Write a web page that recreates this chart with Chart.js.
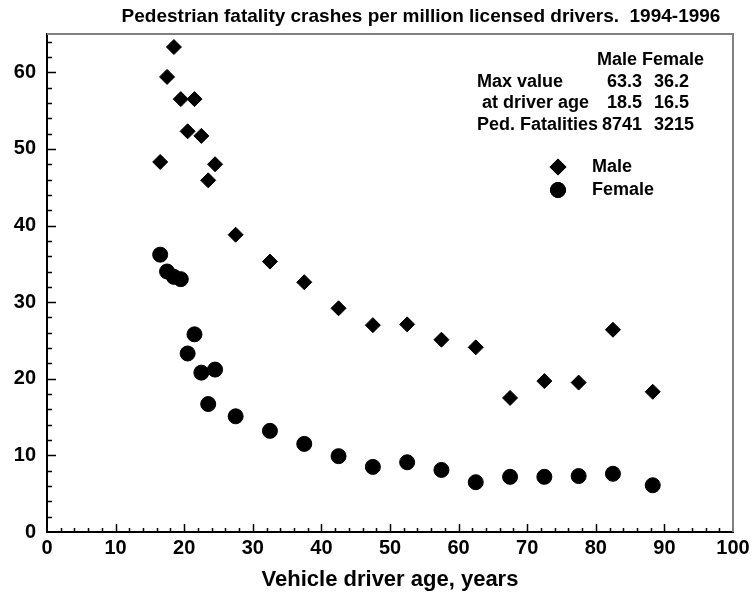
<!DOCTYPE html>
<html>
<head>
<meta charset="utf-8">
<script src="https://cdn.jsdelivr.net/npm/chart.js@4.4.1/dist/chart.umd.min.js"></script>
<style>
  html, body { margin: 0; padding: 0; background: #fff; }
  #wrap { width: 754px; height: 596px; }
</style>
</head>
<body>
<div id="wrap"><canvas id="chart" width="754" height="596"></canvas></div>
<script>
// driver age (years) for each plotted group
const ages = [16.5, 17.5, 18.5, 19.5, 20.5, 21.5, 22.5, 23.5, 24.5, 27.5, 32.5, 37.5, 42.5, 47.5, 52.5, 57.5, 62.5, 67.5, 72.5, 77.5, 82.5, 88.3];
// pedestrian fatality crashes per million licensed drivers
const maleRates   = [48.3, 59.4, 63.3, 56.5, 52.3, 56.5, 51.7, 45.9, 48.0, 38.8, 35.3, 32.6, 29.2, 27.0, 27.1, 25.1, 24.1, 17.5, 19.7, 19.5, 26.4, 18.3];
const femaleRates = [36.2, 34.0, 33.3, 33.0, 23.3, 25.8, 20.8, 16.7, 21.2, 15.1, 13.2, 11.5, 9.9, 8.5, 9.1, 8.1, 6.5, 7.2, 7.2, 7.3, 7.6, 6.1];

const xTicks = [0, 10, 20, 30, 40, 50, 60, 70, 80, 90, 100];
const yTicks = [0, 10, 20, 30, 40, 50, 60];

// summary table shown in the upper right
const tableHeader = 'Male Female';
const tableRows = ['Max value', ' at driver age', 'Ped. Fatalities'];
const tableMale = ['63.3', '18.5', '8741'];
const tableFemale = ['36.2', '16.5', '3215'];

const FONT = '"Liberation Sans", Arial, Helvetica, sans-serif';

const pts = ages.map((a, i) => ({ x: a, y: maleRates[i] }));
const ptsF = ages.map((a, i) => ({ x: a, y: femaleRates[i] }));

// draws frame, inward ticks, title, table and legend
const decor = {
  id: 'decor',
  afterDraw(chart) {
    const { ctx, chartArea: a, scales: { x, y } } = chart;
    ctx.save();

    ctx.strokeStyle = '#808080';
    ctx.lineWidth = 2;
    ctx.beginPath();
    ctx.moveTo(a.left, a.top);
    ctx.lineTo(a.right, a.top);
    ctx.lineTo(a.right, a.bottom);
    ctx.stroke();

    ctx.strokeStyle = '#000';
    ctx.lineWidth = 1.5;
    ctx.beginPath();
    for (let v = 2; v < 100; v += 2) {
      const px = Math.round(x.getPixelForValue(v)) + 0.5;
      const len = v % 10 === 0 ? 8 : 4;
      ctx.moveTo(px, a.bottom);
      ctx.lineTo(px, a.bottom - len);
    }
    for (let v = 2; v < 65; v += 2) {
      const py = Math.round(y.getPixelForValue(v)) + 0.5;
      const len = v % 10 === 0 ? 9 : 5;
      ctx.moveTo(a.left, py);
      ctx.lineTo(a.left + len, py);
    }
    ctx.stroke();

    ctx.fillStyle = '#000';
    ctx.textBaseline = 'middle';
    ctx.font = 'bold 19px ' + FONT;
    ctx.textAlign = 'center';
    ctx.fillText('Pedestrian fatality crashes per million licensed drivers.  1994-1996', 421, 17);

    ctx.font = 'bold 18px ' + FONT;
    ctx.textAlign = 'left';
    ctx.fillText(tableHeader, 597, 60);
    tableRows.forEach((r, i) => {
      const ty = 82 + i * 21.5;
      ctx.textAlign = 'left';
      ctx.fillText(r, 477, ty);
      ctx.textAlign = 'right';
      ctx.fillText(tableMale[i], 642, ty);
      ctx.textAlign = 'left';
      ctx.fillText(tableFemale[i], 654, ty);
    });

    // legend
    const items = chart.data.datasets.map((ds, i) => ({ ds, y: 167 + i * 23 }));
    items.forEach(({ ds, y: ly }) => {
      Chart.helpers.drawPoint(ctx, {
        pointStyle: ds.pointStyle, radius: ds.pointRadius, rotation: 0, borderWidth: 1
      }, 558, ly);
      ctx.fillStyle = '#000';
      ctx.strokeStyle = '#000';
      ctx.lineWidth = 1;
      ctx.fill();
      ctx.stroke();
      ctx.textAlign = 'left';
      ctx.fillText(ds.label, 592, ly);
    });

    ctx.restore();
  }
};

new Chart(document.getElementById('chart'), {
  type: 'scatter',
  data: {
    datasets: [
      {
        label: 'Male',
        data: pts,
        pointStyle: 'rectRot',
        pointRadius: 7.5,
        backgroundColor: '#000',
        borderColor: '#000',
        borderWidth: 1
      },
      {
        label: 'Female',
        data: ptsF,
        pointStyle: 'circle',
        pointRadius: 7.5,
        backgroundColor: '#000',
        borderColor: '#000',
        borderWidth: 1
      }
    ]
  },
  options: {
    responsive: false,
    animation: false,
    layout: { padding: { top: 34, right: 21, left: 0, bottom: 0 } },
    plugins: { legend: { display: false }, tooltip: { enabled: false } },
    scales: {
      x: {
        type: 'linear',
        min: 0,
        max: 100,
        afterBuildTicks: s => { s.ticks = xTicks.map(v => ({ value: v })); },
        afterFit: s => { s.height = 64; },
        grid: { display: false, drawTicks: false },
        border: { display: true, color: '#000', width: 2 },
        ticks: { color: '#000', font: { family: FONT, size: 20, weight: 'bold' }, padding: 4, maxRotation: 0, autoSkip: false },
        title: { display: true, text: 'Vehicle driver age, years', color: '#000', font: { family: FONT, size: 22, weight: 'bold' }, padding: { top: 0, bottom: 3 } }
      },
      y: {
        type: 'linear',
        min: 0,
        max: 65,
        afterBuildTicks: s => { s.ticks = yTicks.map(v => ({ value: v })); },
        afterFit: s => { s.width = 47; },
        grid: { display: false, drawTicks: false },
        border: { display: true, color: '#000', width: 2 },
        ticks: { color: '#000', font: { family: FONT, size: 20, weight: 'bold' }, padding: 11, autoSkip: false }
      }
    }
  },
  plugins: [decor]
});
</script>
</body>
</html>
